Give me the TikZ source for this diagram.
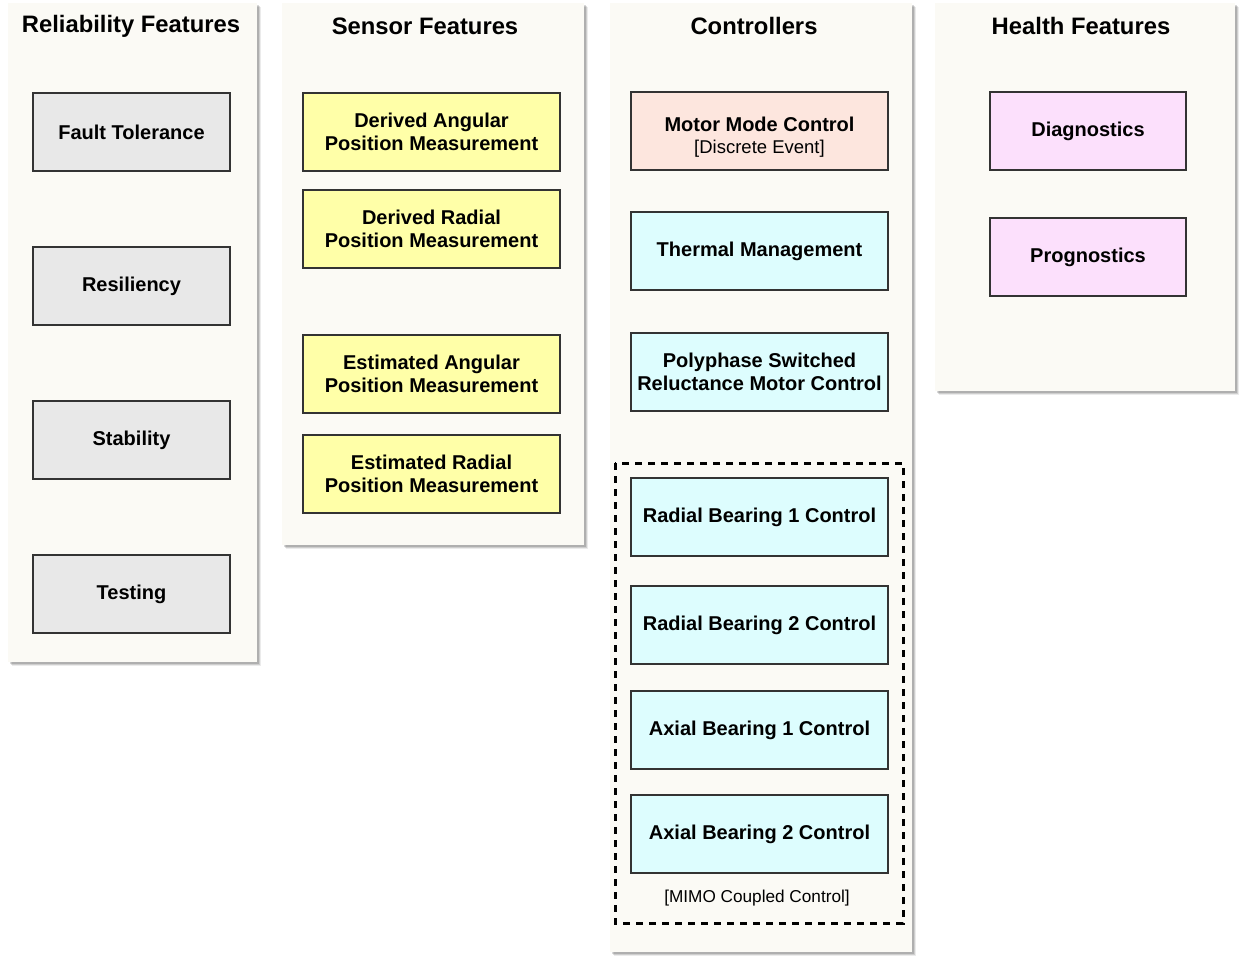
\documentclass[tikz,border=0pt]{standalone}
\usepackage{fontspec}
\setmainfont{Liberation Sans}
\usepackage{tikz}
\usetikzlibrary{shadows}
\usepackage{xcolor}
\definecolor{panelbg}{HTML}{FBFAF5}
\definecolor{boxline}{HTML}{333333}
\definecolor{relfill}{HTML}{E8E8E8}
\definecolor{sensfill}{HTML}{FFFFA8}
\definecolor{modefill}{HTML}{FDE6DE}
\definecolor{ctrlfill}{HTML}{DDFDFE}
\definecolor{healthfill}{HTML}{FCE0FC}

\tikzset{
  panel/.style={fill=panelbg,
    drop shadow={shadow xshift=4pt, shadow yshift=-4pt, fill=black, opacity=0.08},
    drop shadow={shadow xshift=3pt, shadow yshift=-3pt, fill=black, opacity=0.12},
    drop shadow={shadow xshift=2pt, shadow yshift=-2pt, fill=black, opacity=0.15}},
  paneltitle/.style={font=\fontsize{23.8}{28}\selectfont\bfseries},
  featbox/.style={draw=boxline, line width=1.2pt, minimum height=78pt, inner sep=2pt, align=center,
    font=\fontsize{20}{23}\selectfont\bfseries},
  relbox/.style={featbox, fill=relfill, minimum width=197pt},
  sensbox/.style={featbox, fill=sensfill, minimum width=257pt},
  ctrlbox/.style={featbox, fill=ctrlfill, minimum width=257pt},
  healthbox/.style={featbox, fill=healthfill, minimum width=196pt}
}

\begin{document}
\begin{tikzpicture}[x=1pt, y=-1pt]
  \useasboundingbox (0,0) rectangle (1239,957);

  % --- column panels ---
  \path[panel] (8,3) rectangle (257,662);
  \path[panel] (282,3) rectangle (584,545);
  \path[panel] (610,3) rectangle (912,952);
  \path[panel] (935,3) rectangle (1235,391);

  % --- titles ---
  \node[paneltitle] (reltitle) at (131,26) {Reliability Features};
  \node[paneltitle] (senstitle) at (425,26) {Sensor Features};
  \node[paneltitle] (ctrltitle) at (754,26) {Controllers};
  \node[paneltitle] (healthtitle) at (1081,26) {Health Features};

  % --- reliability features ---
  \foreach \y/\name/\txt in {132/fault/Fault Tolerance, 286/resil/Resiliency,
                             440/stab/Stability, 594/test/Testing} {
    \node[relbox] (\name) at (131.5,\y) {\txt};
  }

  % --- sensor features ---
  \node[sensbox] (dangle) at (431.5,132) {Derived Angular\\Position Measurement};
  \node[sensbox] (dradial) at (431.5,229) {Derived Radial\\Position Measurement};
  \node[sensbox] (eangle) at (431.5,374) {Estimated Angular\\Position Measurement};
  \node[sensbox] (eradial) at (431.5,474) {Estimated Radial\\Position Measurement};

  % --- controllers ---
  \node[featbox, fill=modefill, minimum width=257pt] (mode) at (759.5,131) {};
  \node[align=center, font=\fontsize{20}{22}\selectfont\bfseries] (modetxt)
    at ([yshift=-6pt]mode.center)
    {Motor Mode Control\\{\fontsize{18.5}{22}\selectfont\mdseries [Discrete Event]}};
  \node[ctrlbox] (thermal) at (759.5,251) {Thermal Management};
  \node[ctrlbox] (srm) at (759.5,372) {Polyphase Switched\\Reluctance Motor Control};
  \node[ctrlbox] (rb1) at (759.5,517) {Radial Bearing 1 Control};
  \node[ctrlbox] (rb2) at (759.5,625) {Radial Bearing 2 Control};
  \node[ctrlbox] (ab1) at (759.5,730) {Axial Bearing 1 Control};
  \node[ctrlbox] (ab2) at (759.5,834) {Axial Bearing 2 Control};

  % --- coupled bearing group ---
  \draw[line width=3pt, dash pattern=on 7pt off 6pt] (615,463) rectangle (903,923);
  \node[font=\fontsize{17.2}{20}\selectfont] (mimo) at (757,898) {[MIMO Coupled Control]};

  % --- health features ---
  \node[healthbox] (diag) at (1088,131) {Diagnostics};
  \node[healthbox] (prog) at (1088,257) {Prognostics};
\end{tikzpicture}
\end{document}
